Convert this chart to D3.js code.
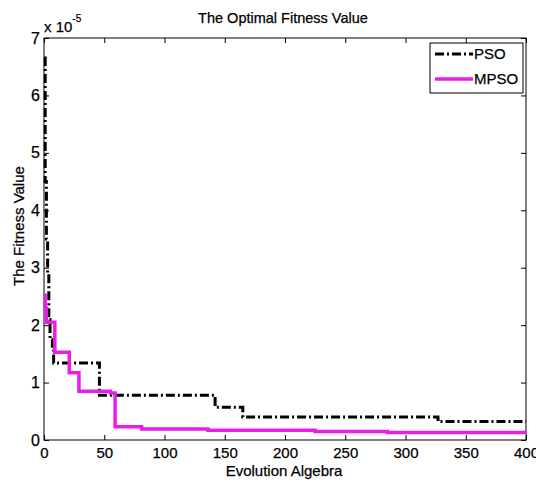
<!DOCTYPE html>
<html>
<head>
<meta charset="utf-8">
<script src="https://cdn.jsdelivr.net/npm/d3@7"></script>
<style>
  body { margin: 0; background: #fff; }
  svg { display: block; }
  text { font-family: Arial, "Liberation Sans", sans-serif; fill: #000; stroke: #000; stroke-width: 0.25px; }
</style>
</head>
<body>
<svg id="chart" width="536" height="481"></svg>
<script>
// iteration / value pairs (values in units of 1e-5)
var psoIter  = [0, 1, 2, 3, 4, 5, 7, 8, 46, 142, 165, 327, 400];
var psoValue = [6.65, 4.5, 3.5, 2.9, 2.1, 1.75, 1.6, 1.34, 0.78, 0.57, 0.40, 0.32, 0.32];

var mpsoIter  = [0, 1, 2, 9, 21, 29, 55, 59, 81, 136, 225, 285, 400];
var mpsoValue = [2.52, 2.3, 2.05, 1.53, 1.17, 0.85, 0.82, 0.23, 0.19, 0.17, 0.15, 0.13, 0.13];

var xTicks = [0, 50, 100, 150, 200, 250, 300, 350, 400];
var yTicks = [0, 1, 2, 3, 4, 5, 6, 7];

var svg = d3.select('#chart');
var margin = {top: 38, right: 10, bottom: 41, left: 44};
var W = 536, H = 481;

var x = d3.scaleLinear().domain([0, 400]).range([margin.left, W - margin.right]);
var y = d3.scaleLinear().domain([0, 7]).range([H - margin.bottom, margin.top]);

var toPoints = function(xs, ys) {
	return xs.map((d, i) => [d, ys[i]]);
};

var line = d3.line()
	.x(d => x(d[0]))
	.y(d => y(d[1]))
	.curve(d3.curveStepAfter);

// box and ticks (MATLAB style, ticks inside on all sides)
var g = svg.append('g');
g.append('rect')
	.attr('x', x(0)).attr('y', y(7))
	.attr('width', x(400) - x(0)).attr('height', y(0) - y(7))
	.attr('fill', 'none').attr('stroke', '#000').attr('stroke-width', 1);

var xAxis = g.append('g')
	.attr('transform', `translate(0, ${y(0)})`)
	.call(d3.axisBottom(x).tickValues(xTicks).tickSize(-5).tickPadding(7));
xAxis.select('.domain').remove();
xAxis.selectAll('text').style('font-size', '15px').attr('fill', '#000');

var xAxisTop = g.append('g')
	.attr('transform', `translate(0, ${y(7)})`)
	.call(d3.axisTop(x).tickValues(xTicks).tickSize(-5).tickFormat(''));
xAxisTop.select('.domain').remove();

var yAxis = g.append('g')
	.attr('transform', `translate(${x(0)}, 0)`)
	.call(d3.axisLeft(y).tickValues(yTicks).tickFormat(d3.format('d')).tickSize(-5).tickPadding(4));
yAxis.select('.domain').remove();
yAxis.selectAll('text').style('font-size', '16px').attr('fill', '#000');

var yAxisRight = g.append('g')
	.attr('transform', `translate(${x(400)}, 0)`)
	.call(d3.axisRight(y).tickValues(yTicks).tickSize(-5).tickFormat(''));
yAxisRight.select('.domain').remove();

// lines (PSO first, MPSO drawn over it)
svg.append('path')
	.datum(toPoints(psoIter, psoValue))
	.attr('d', line)
	.attr('fill', 'none')
	.attr('stroke', '#000')
	.attr('stroke-width', 3)
	.attr('stroke-dasharray', '9,3,2,3');

svg.append('path')
	.datum(toPoints(mpsoIter, mpsoValue))
	.attr('d', line)
	.attr('fill', 'none')
	.attr('stroke', '#e81ee8')
	.attr('stroke-width', 3.5);

// exponent
var ex = svg.append('text').attr('x', 44).attr('y', 32).style('font-size', '15px');
ex.append('tspan').text('x 10');
ex.append('tspan').attr('dy', -10).style('font-size', '10px').text('-5');

// titles
svg.append('text')
	.attr('x', 283).attr('y', 23)
	.attr('text-anchor', 'middle')
	.style('font-size', '14.5px')
	.text('The Optimal Fitness Value');

svg.append('text')
	.attr('x', 284).attr('y', 476)
	.attr('text-anchor', 'middle')
	.style('font-size', '15px')
	.text('Evolution Algebra');

svg.append('text')
	.attr('transform', 'translate(24, 226) rotate(-90)')
	.attr('text-anchor', 'middle')
	.style('font-size', '15px')
	.text('The Fitness Value');

// legend
var lg = svg.append('g');
lg.append('rect')
	.attr('x', 430).attr('y', 43).attr('width', 93).attr('height', 50)
	.attr('fill', '#fff').attr('stroke', '#000').attr('stroke-width', 1);
lg.append('line')
	.attr('x1', 435).attr('x2', 473).attr('y1', 54).attr('y2', 54)
	.attr('stroke', '#000').attr('stroke-width', 3)
	.attr('stroke-dasharray', '9,3,2,3');
lg.append('line')
	.attr('x1', 435).attr('x2', 473).attr('y1', 79).attr('y2', 79)
	.attr('stroke', '#e81ee8').attr('stroke-width', 3.5);
lg.append('text').attr('x', 474).attr('y', 59).style('font-size', '15px').text('PSO');
lg.append('text').attr('x', 474).attr('y', 84).style('font-size', '15px').text('MPSO');
</script>
</body>
</html>
